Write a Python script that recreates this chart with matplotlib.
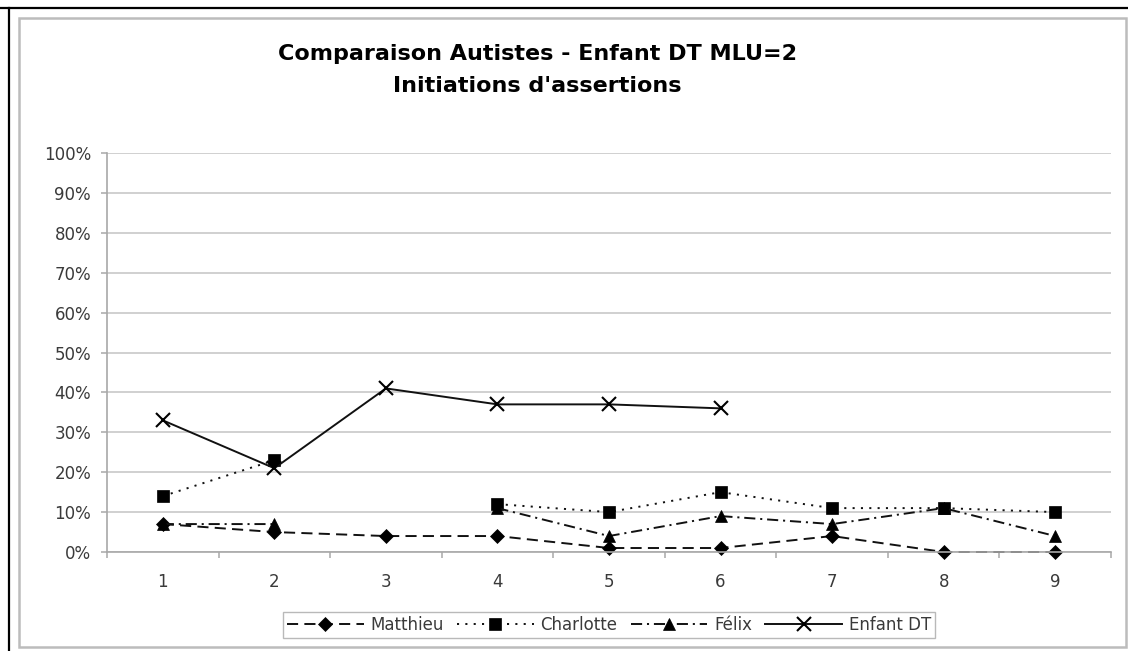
import numpy as np
import matplotlib
matplotlib.use("Agg")
from matplotlib import pyplot as plt
from matplotlib.patches import Rectangle
from matplotlib.lines import Line2D

# Data (percent, nan = no value)
sessions = [1, 2, 3, 4, 5, 6, 7, 8, 9]
matthieu = [7, 5, 4, 4, 1, 1, 4, 0, 0]
charlotte = [14, 23, np.nan, 12, 10, 15, 11, 11, 10]
felix = [7, 7, np.nan, 11, 4, 9, 7, 11, 4]
enfant_dt = [33, 21, 41, 37, 37, 36, np.nan, np.nan, np.nan]
y_ticks = list(range(0, 101, 10))

plt.rcParams['font.family'] = ['DejaVu Sans']
plt.rcParams['lines.scale_dashes'] = False

W, H = 1128, 651
fig = plt.figure(figsize=(W / 100, H / 100), dpi=100)
fig.patch.set_facecolor('white')

# outer frame: black top/left lines, gray chart-area rectangle
fig.add_artist(Line2D([0, 1], [1 - 8 / H, 1 - 8 / H], transform=fig.transFigure, color='black', lw=1.6))
fig.add_artist(Line2D([9 / W, 9 / W], [0, 1 - 8 / H], transform=fig.transFigure, color='black', lw=1.6))
fig.add_artist(Rectangle((19 / W, 4 / H), (1126 - 19) / W, (647 - 18) / H, transform=fig.transFigure,
                         fill=False, edgecolor='#bcbcbc', lw=1.8))

ax = fig.add_axes([107 / W, (H - 552) / H, (1111 - 107) / W, (552 - 153) / H])

x = np.array(sessions)
series = [
    ("Matthieu", matthieu, 'D', (0, (8, 4.5)), 7),
    ("Charlotte", charlotte, 's', (0, (1.5, 4.5)), 8),
    ("Félix", felix, '^', (0, (8, 3.5, 1.5, 3.5)), 8),
    ("Enfant DT", enfant_dt, 'x', '-', 9.5),
]
for name, vals, marker, ls, ms in series:
    ax.plot(x, np.array(vals, dtype=float) / 100, color='#111111', linestyle=ls, lw=1.4,
            marker=marker, markersize=ms, markeredgewidth=1.5 if marker == 'x' else 0.5,
            markerfacecolor='black', markeredgecolor='black', label=name, clip_on=False)

ax.set_xlim(0.5, 9.5)
ax.set_ylim(0, 1)
ax.set_yticks([v / 100 for v in y_ticks])
ax.set_yticklabels([f"{v}%" for v in y_ticks])
ax.set_xticks(sessions)
ax.set_xticks(np.arange(0.5, 10, 1), minor=True)
ax.grid(axis='y', color='#c8c8c8', lw=1.2)
ax.set_axisbelow(True)

for s in ['top', 'right']:
    ax.spines[s].set_visible(False)
for s in ['left', 'bottom']:
    ax.spines[s].set_color('#a8a8a8')
    ax.spines[s].set_linewidth(1.2)

ax.tick_params(axis='y', length=4.5, width=1.1, color='#a8a8a8', pad=7, labelsize=12, labelcolor='#3a3a3a')
ax.tick_params(axis='x', which='major', length=0, pad=15, labelsize=12, labelcolor='#3a3a3a')
ax.tick_params(axis='x', which='minor', length=4, width=1.1, color='#a8a8a8')

fig.text(537 / W, 1 - 54 / H, "Comparaison Autistes - Enfant DT MLU=2", ha='center', va='center',
         fontsize=16, fontweight='bold')
fig.text(537 / W, 1 - 86 / H, "Initiations d'assertions", ha='center', va='center',
         fontsize=16, fontweight='bold')

leg = fig.legend(loc='center', bbox_to_anchor=(609 / W, 1 - 625 / H), ncol=4, frameon=True,
                 fancybox=False, fontsize=12, handlelength=4.6, handletextpad=0.4,
                 columnspacing=0.8, borderpad=0.25, labelcolor='#3a3a3a')
leg.get_frame().set_edgecolor('#a8a8a8')
leg.get_frame().set_linewidth(1.0)

fig.savefig("out.png", dpi=100)
